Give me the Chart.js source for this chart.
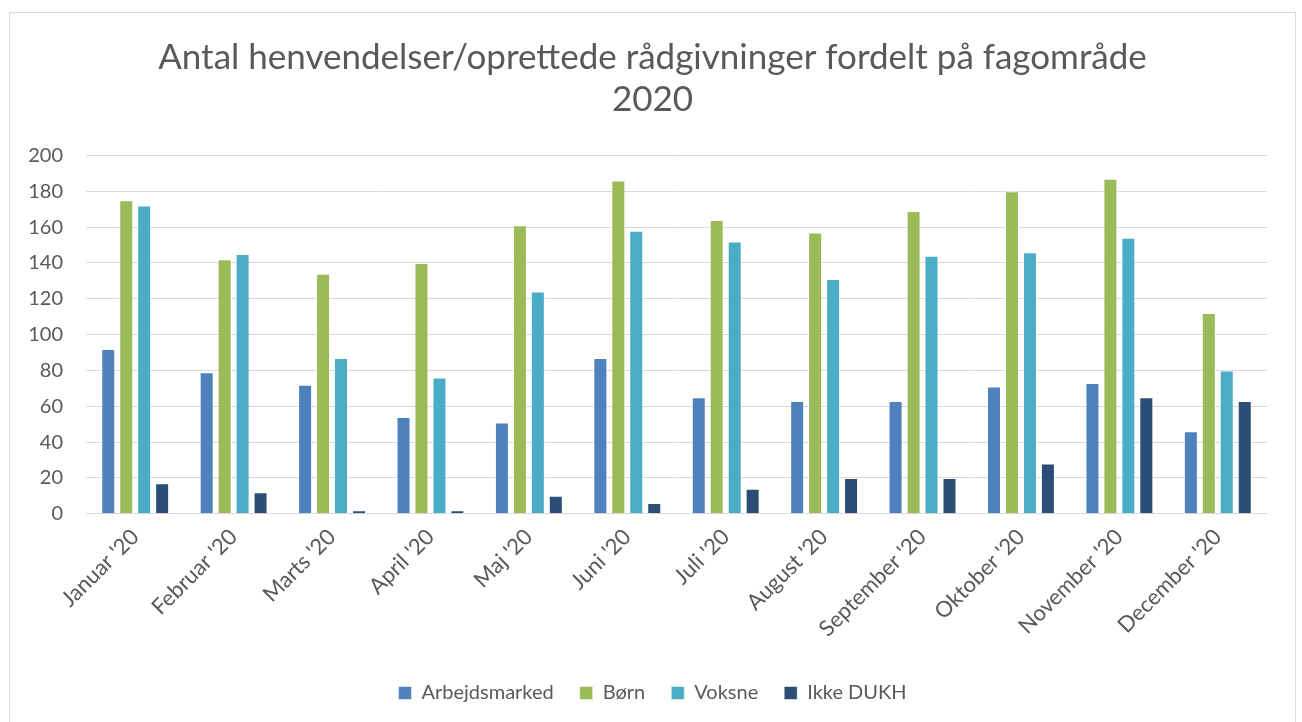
<!DOCTYPE html>
<html>
<head>
<meta charset="utf-8">
<script src="https://cdn.jsdelivr.net/npm/chart.js@4"></script>
<style>
    body { margin: 0; background: #fff; }
    #wrap {
        position: absolute; left: 9px; top: 12px;
        width: 1285px; height: 716px;
        border: 1px solid #d9d9d9;
        background: #fff;
    }
</style>
</head>
<body>
<div id="wrap"><canvas id="fagChart"></canvas></div>
<script>
// Données
const maaneder = ["Januar '20", "Februar '20", "Marts '20", "April '20", "Maj '20", "Juni '20",
    "Juli '20", "August '20", "September '20", "Oktober '20", "November '20", "December '20"];
const arbejdsmarked = [92, 79, 72, 54, 51, 87, 65, 63, 63, 71, 73, 46];
const boern = [175, 142, 134, 140, 161, 186, 164, 157, 169, 180, 187, 112];
const voksne = [172, 145, 87, 76, 124, 158, 152, 131, 144, 146, 154, 80];
const ikkeDukh = [17, 12, 2, 2, 10, 6, 14, 20, 20, 28, 65, 63];
const yTicks = [0, 20, 40, 60, 80, 100, 120, 140, 160, 180, 200];

const fontFamily = "Lato, 'Open Sans', sans-serif";
const textColor = '#595959';

function serie(label, data, color) {
    return {
        label: label,
        data: data,
        backgroundColor: color,
        borderColor: 'rgba(255,255,255,0.5)',
        borderWidth: 1,
        categoryPercentage: 0.73,
        barPercentage: 0.78
    };
}

const ctx = document.getElementById('fagChart').getContext('2d');
new Chart(ctx, {
    type: 'bar',
    data: {
        labels: maaneder,
        datasets: [
            serie('Arbejdsmarked', arbejdsmarked, '#4f81bd'),
            serie('Børn', boern, '#9bbb59'),
            serie('Voksne', voksne, '#4bacc6'),
            serie('Ikke DUKH', ikkeDukh, '#2c4d75')
        ]
    },
    options: {
        responsive: true,
        maintainAspectRatio: false,
        animation: false,
        layout: { padding: { left: 0, right: 0, top: 23, bottom: 16 } },
        plugins: {
            title: {
                display: true,
                text: ['Antal henvendelser/oprettede rådgivninger fordelt på fagområde', '2020'],
                color: textColor,
                font: { family: fontFamily, size: 35, weight: 'normal', lineHeight: 1.22 },
                padding: { top: 0, bottom: 34 }
            },
            legend: {
                position: 'bottom',
                labels: {
                    color: textColor,
                    font: { family: fontFamily, size: 20 },
                    boxWidth: 13,
                    boxHeight: 13,
                    padding: 26
                }
            },
            tooltip: { enabled: false }
        },
        scales: {
            x: {
                grid: { display: false },
                border: { color: '#d9d9d9', width: 1 },
                afterFit: (axis) => {
                    axis.height += 13;
                    axis.paddingRight = 28;
                },
                ticks: {
                    color: textColor,
                    font: { family: fontFamily, size: 22 },
                    minRotation: 45,
                    maxRotation: 45,
                    padding: 2
                }
            },
            y: {
                min: 0,
                max: 200,
                afterBuildTicks: (axis) => { axis.ticks = yTicks.map(v => ({ value: v })); },
                afterFit: (axis) => { axis.width = 76; },
                grid: { color: '#d9d9d9', lineWidth: 1, drawTicks: false },
                border: { display: false },
                ticks: {
                    color: textColor,
                    font: { family: fontFamily, size: 20 },
                    padding: 23
                }
            }
        }
    }
});
</script>
</body>
</html>
